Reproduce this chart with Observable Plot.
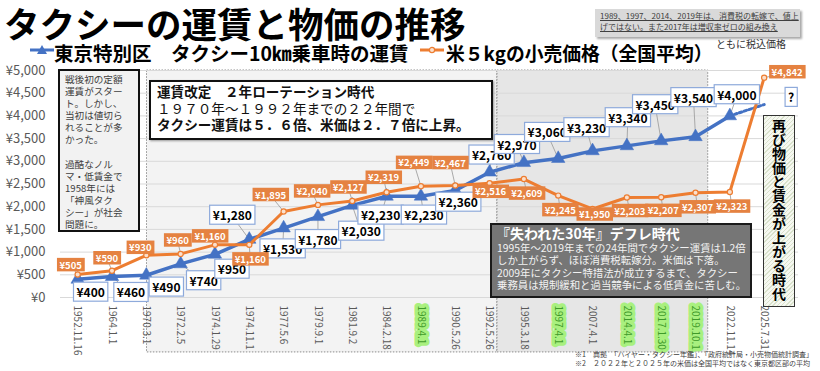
<!DOCTYPE html>
<html><head><meta charset="utf-8">
<script src="https://cdn.jsdelivr.net/npm/d3@7"></script>
<script src="https://cdn.jsdelivr.net/npm/@observablehq/plot@0.6"></script>
<style>
body{margin:0;background:#fff;}
#wrap{position:relative;width:820px;height:371px;overflow:hidden;background:#fff;font-family:"Noto Sans CJK JP","Noto Sans",sans-serif;}
#wrap svg.plot{position:absolute;left:0;top:0;}
.ov{position:absolute;box-sizing:border-box;white-space:nowrap;}
#title{left:4px;top:4px;font-size:35.5px;font-weight:bold;line-height:37px;color:#000;}
#note{left:595px;top:9px;width:205px;height:28px;background:#d9d9d9;box-shadow:2px 2px 2px #aaa;padding:2px 5px;font-size:8px;line-height:10.5px;color:#404040;text-decoration:underline;}
.legtxt{top:42px;font-weight:bold;line-height:22px;color:#000;}
#tomoni{left:716px;top:38px;font-size:10px;line-height:12px;color:#333;}
#leftbox{left:58px;top:69px;width:82px;height:163px;background:#f2f2f2;border:2px solid #111;padding:2px 0 0 5px;font-size:9.6px;line-height:12.1px;color:#404040;}
#midbox{left:149px;top:80px;width:344px;height:60px;background:#fff;border:2px solid #111;padding:1px 0 0 6px;font-size:13.6px;line-height:16.5px;color:#111;font-weight:bold;box-shadow:1px 1px 2px #999;}
#darkbox{left:490px;top:223px;width:262px;height:75px;background:#767676;border:2px solid #1a1a1a;padding:0 0 0 5px;color:#fff;}
#darkbox .t{font-size:14px;font-weight:bold;line-height:17px;margin-left:-1px;}
#darkbox .b{font-size:10.4px;line-height:12.3px;color:#f2f2f2;}
#vbox{left:763px;top:115px;width:32px;height:192px;border:1.5px solid #333;background:repeating-linear-gradient(135deg,#f6f8f1 0px,#f6f8f1 2px,#d9e2cc 2px,#d9e2cc 3px);display:flex;justify-content:center;padding-top:3px;}
#vbox span{writing-mode:vertical-rl;text-orientation:upright;font-size:14px;font-weight:bold;line-height:14px;color:#000;}
#foot{left:575px;top:350px;font-size:7px;line-height:9px;color:#404040;}
</style></head>
<body>
<div id="wrap"></div>
<script>
// ---------- DATA ----------
const dates = ["1952.11.16","1964.1.1","1970.3.1","1972.2.5","1974.1.29","1974.11.1","1977.5.6","1979.9.1","1981.9.2","1984.2.18","1989.4.1","1990.5.26","1992.5.26","1995.3.18","1997.4.1","2007.4.1","2014.4.1","2017.1.30","2019.10.1","2022.11.14","2025.7.31"];
const taxiFare = [400,460,490,740,950,1280,1530,1780,2030,2230,2230,2360,2760,2970,3060,3230,3340,3450,3540,4000,null];
const outlookDates = ["2022.11.14","2025.7.31"];
const outlookFare = [4000,4250];
const ricePrice = [505,590,930,960,1160,1160,1895,2040,2127,2319,2449,2467,2516,2609,2245,1950,2203,2207,2307,2323,4842];
const taxDates = ["1989.4.1","1997.4.1","2014.4.1","2017.1.30","2019.10.1"];
const yTicks = [0,500,1000,1500,2000,2500,3000,3500,4000,4500,5000];
const eraRotation = ["1970.3.1","1992.5.26"];
const eraDeflation = ["1992.5.26","2019.10.1"];

// ---------- LAYOUT (pixels) ----------
const W=820,H=371,ML=60,MR=22,MT=70,MB=74;
const xDomain=[-0.5,21];
const pxX=(W-ML-MR)/(xDomain[1]-xDomain[0]);
const pxY=(H-MT-MB)/5000;
// label centre offsets from their point, in px
const taxiLabelOffset=[[13,14],[19,17],[20,13],[23,18],[17,16],[-17,-23],[-1,22],[0,24],[9,27],[-6,20],[3,20],[3,13],[2,-16],[-7,-17],[-11,-25],[-6,-22],[1,-27],[-6,-35],[-2,-38],[7,-20],[27,-6]];
const riceLabelOffset=[[-7,-9],[-5,-12],[-6,-7],[-3,-13],[-5,-8],[1,15],[-13,-16],[-6,-13],[-4,-13],[-3,-14],[-7,-23],[-5,-22],[1,9],[3,15],[2,15],[2,6],[3,14],[2,14],[2,15],[2,15],[23,-5]];
const eraEdgeShift=[0.02,0.23,0.23,0.37];
const eraBottom=-1210;

const blue="#4472C4", orange="#ED7D31";
const yen=v=>"¥"+d3.format(",")(v);
const idx=d=>dates.indexOf(d);

const rows=dates.map((d,i)=>({i,date:d,taxi:taxiFare[i],rice:ricePrice[i]}));
const outlook=outlookDates.map((d,k)=>({i:idx(d),v:outlookFare[k]}));
const taxiLab=dates.map((d,i)=>{
  const v=taxiFare[i]??outlookFare[outlookFare.length-1];
  const [ox,oy]=taxiLabelOffset[i];
  return {i,v,text:taxiFare[i]==null?"?":yen(taxiFare[i]),lx:i+ox/pxX,ly:v-oy/pxY,leader:taxiFare[i]!=null};
});
const riceLab=dates.map((d,i)=>{
  const v=ricePrice[i];const [ox,oy]=riceLabelOffset[i];
  return {i,v,text:yen(v),lx:i+ox/pxX,ly:v-oy/pxY};
});
const eras=[
  {x1:idx(eraRotation[0])+eraEdgeShift[0],x2:idx(eraRotation[1])+eraEdgeShift[1],fill:"#f3f3f3"},
  {x1:idx(eraDeflation[0])+eraEdgeShift[2],x2:idx(eraDeflation[1])+eraEdgeShift[3],fill:"#e6e6e6"}
];
const xlab=dates.map((d,i)=>({i,d,hi:taxDates.includes(d)}));

const chart=Plot.plot({
  width:W,height:H,marginLeft:ML,marginRight:MR,marginTop:MT,marginBottom:MB,
  style:{fontFamily:"'Noto Sans CJK JP','Noto Sans',sans-serif",fontSize:"13px",color:"#595959",background:"transparent"},
  x:{type:"linear",domain:xDomain,axis:null},
  y:{domain:[0,5000],ticks:yTicks,tickFormat:yen,tickSize:0,tickPadding:15,label:null},
  marks:[
    Plot.rect(eras,{x1:"x1",x2:"x2",y1:5000,y2:eraBottom,fill:"fill",stroke:"#8c8c8c",strokeWidth:1,strokeDasharray:"1.5,1.5"}),
    Plot.ruleY(yTicks,{stroke:"#d9d9d9",strokeWidth:1}),
    Plot.link(taxiLab.filter(d=>d.leader),{x1:"i",y1:"v",x2:"lx",y2:"ly",stroke:"#a0a0a0",strokeWidth:0.9}),
    Plot.link(riceLab,{x1:"i",y1:"v",x2:"lx",y2:"ly",stroke:"#a0a0a0",strokeWidth:0.9}),
    Plot.line(outlook,{x:"i",y:"v",stroke:blue,strokeWidth:3,strokeDasharray:"2.5,2.5"}),
    Plot.line(rows.filter(r=>r.taxi!=null),{x:"i",y:"taxi",stroke:blue,strokeWidth:3.5}),
    Plot.dot(rows.filter(r=>r.taxi!=null),{x:"i",y:"taxi",symbol:"triangle",r:5,fill:blue,stroke:blue,strokeWidth:0.5}),
    Plot.line(rows,{x:"i",y:"rice",stroke:orange,strokeWidth:3}),
    Plot.dot(rows,{x:"i",y:"rice",r:2.6,fill:"#fbe0cc",stroke:orange,strokeWidth:1.2}),
    Plot.text(taxiLab,{x:"lx",y:"ly",text:"text",fontSize:12,fontWeight:"bold",fill:"#000"}),
    Plot.text(riceLab,{x:"lx",y:"ly",text:"text",fontSize:9.5,fontWeight:"bold",fill:"#fff"}),
    Plot.text(xlab.filter(d=>d.hi),{x:"i",y:0,text:"d",dy:8,rotate:90,textAnchor:"start",fontSize:10,fill:"#3f9a2a",stroke:"#a9f07f",strokeWidth:7,strokeLinejoin:"round"}),
    Plot.text(xlab.filter(d=>!d.hi),{x:"i",y:0,text:"d",dy:8,rotate:90,textAnchor:"start",fontSize:10,fill:"#595959"})
  ]
});
chart.classList.add("plot");
const wrap=document.getElementById("wrap");
wrap.appendChild(chart);

// label boxes behind the data-label texts
const tg=chart.querySelectorAll('g[aria-label="text"]');
function boxes(g,h,padX,fill,stroke){
  if(!g) return;
  g.querySelectorAll("text").forEach(t=>{
    const b=t.getBBox();
    const r=document.createElementNS("http://www.w3.org/2000/svg","rect");
    r.setAttribute("x",b.x-padX);r.setAttribute("y",b.y+b.height/2-h/2);
    r.setAttribute("width",b.width+2*padX);r.setAttribute("height",h);
    r.setAttribute("fill",fill);
    if(stroke){r.setAttribute("stroke",stroke);r.setAttribute("stroke-width","1.2");}
    const tr=t.getAttribute("transform");if(tr)r.setAttribute("transform",tr);
    t.parentNode.insertBefore(r,t);
  });
}
boxes(tg[0],19,3,"#fff","#8eaadb");
boxes(tg[1],13.5,2.5,"#E58241",null);

// overlays
wrap.insertAdjacentHTML("beforeend",`
<div class="ov" id="title">タクシーの運賃と物価の推移</div>
<div class="ov" id="note">1989、1997、2014、2019年は、消費税の転嫁で、値上<br>げではない。また2017年は増収率ゼロの組み換え</div>
<svg class="ov" style="left:30px;top:44px" width="24" height="14"><line x1="0" y1="6" x2="24" y2="6" stroke="${blue}" stroke-width="3"/><path d="M12,1 L17,10 L7,10 Z" fill="${blue}"/></svg>
<div class="ov legtxt" style="left:54px;font-size:19.5px">東京特別区　タクシー10㎞乗車時の運賃</div>
<svg class="ov" style="left:420px;top:44px" width="24" height="14"><line x1="0" y1="6" x2="24" y2="6" stroke="${orange}" stroke-width="3"/><circle cx="12" cy="6" r="2.6" fill="#fbe0cc" stroke="${orange}" stroke-width="1.2"/></svg>
<div class="ov legtxt" style="left:446px;font-size:18.8px">米５kgの小売価格（全国平均）</div>
<div class="ov" id="tomoni">ともに税込価格</div>
<div class="ov" id="leftbox">戦後初の定額<br>運賃がスター<br>ト。しかし、<br>当初は値切ら<br>れることが多<br>かった。<br><br>過酷なノル<br>マ・低賃金で<br>1958年には<br>「神風タク<br>シー」が社会<br>問題に。</div>
<div class="ov" id="midbox">運賃改定　２年ローテーション時代<br><span style="font-weight:normal">１９７０年～１９９２年までの２２年間で</span><br>タクシー運賃は５．６倍、米価は２．７倍に上昇。</div>
<div class="ov" id="darkbox"><div class="t">『失われた30年』デフレ時代</div><div class="b">1995年～2019年までの24年間でタクシー運賃は1.2倍<br>しか上がらず、ほぼ消費税転嫁分。米価は下落。<br>2009年にタクシー特措法が成立するまで、タクシー<br>乗務員は規制緩和と過当競争による低賃金に苦しむ。</div></div>
<div class="ov" id="vbox"><span>再び物価と賃金が上がる時代</span></div>
<div class="ov" id="foot">※1　典拠　「ハイヤー・タクシー年鑑」、「政府統計局・小売物価統計調査」<br>※2　２０２２年と２０２５年の米価は全国平均ではなく東京都区部の平均</div>
`);
</script>
</body></html>
